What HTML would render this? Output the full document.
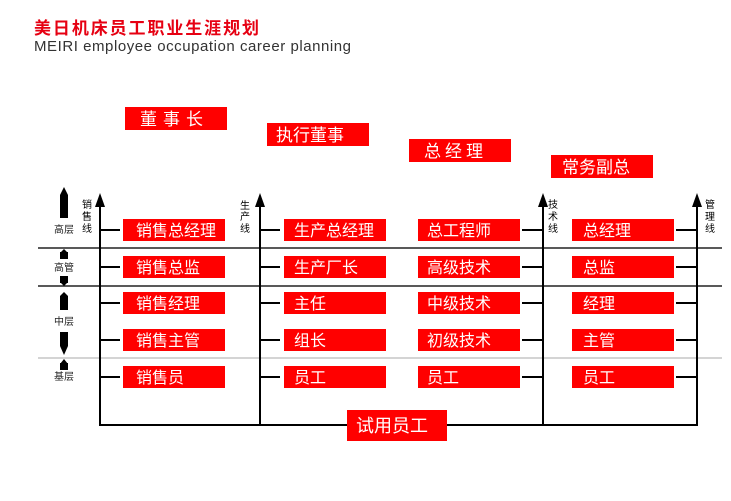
<!DOCTYPE html>
<html><head><meta charset="utf-8"><style>
html,body{margin:0;padding:0;background:#fff;}
svg{display:block;}
text{font-family:"Liberation Sans","Noto Sans CJK SC",sans-serif;}
</style></head><body>
<svg width="731" height="501" viewBox="0 0 731 501" xmlns="http://www.w3.org/2000/svg">
<text x="34" y="34" font-size="17" font-weight="bold" fill="#e60012" textLength="225" font-family="Noto Sans CJK SC, sans-serif">美日机床员工职业生涯规划</text>
<text x="34" y="51" font-size="15" fill="#333" textLength="317">MEIRI employee occupation career planning</text>

<g fill="#f00">
<rect x="125" y="107" width="102" height="23"/>
<rect x="267" y="123" width="102" height="23"/>
<rect x="409" y="139" width="102" height="23"/>
<rect x="551" y="155" width="102" height="23"/>
</g>
<g fill="#fff" font-size="17">
<text x="140" y="125" letter-spacing="6">董事长</text>
<text x="276" y="141">执行董事</text>
<text x="424" y="157" letter-spacing="4">总经理</text>
<text x="562" y="173">常务副总</text>
</g>

<!-- horizontal separators -->
<line x1="38" y1="248" x2="722" y2="248" stroke="#222" stroke-width="1.5"/>
<line x1="38" y1="286" x2="722" y2="286" stroke="#222" stroke-width="1.5"/>
<line x1="38" y1="358" x2="722" y2="358" stroke="#aaa" stroke-width="1"/>

<!-- vertical lines -->
<g stroke="#000" stroke-width="2">
<line x1="100" y1="200" x2="100" y2="426"/>
<line x1="260" y1="200" x2="260" y2="426"/>
<line x1="543" y1="200" x2="543" y2="426"/>
<line x1="697" y1="200" x2="697" y2="426"/>
<line x1="99" y1="425" x2="698" y2="425"/>
</g>
<g fill="#000">
<polygon points="100,193 95,207 105,207"/>
<polygon points="260,193 255,207 265,207"/>
<polygon points="543,193 538,207 548,207"/>
<polygon points="697,193 692,207 702,207"/>
</g>
<g font-size="10" fill="#000">
<text x="82" y="208">销</text><text x="82" y="220">售</text><text x="82" y="232">线</text>
<text x="240" y="209">生</text><text x="240" y="220">产</text><text x="240" y="232">线</text>
<text x="548" y="208">技</text><text x="548" y="220">术</text><text x="548" y="232">线</text>
<text x="705" y="208">管</text><text x="705" y="220">理</text><text x="705" y="232">线</text>
</g>

<!-- ticks -->
<g stroke="#000" stroke-width="2">
<line x1="100" y1="230" x2="120" y2="230"/><line x1="100" y1="267" x2="120" y2="267"/><line x1="100" y1="303" x2="120" y2="303"/><line x1="100" y1="340" x2="120" y2="340"/><line x1="100" y1="377" x2="120" y2="377"/>
<line x1="260" y1="230" x2="280" y2="230"/><line x1="260" y1="267" x2="280" y2="267"/><line x1="260" y1="303" x2="280" y2="303"/><line x1="260" y1="340" x2="280" y2="340"/><line x1="260" y1="377" x2="280" y2="377"/>
<line x1="522" y1="230" x2="543" y2="230"/><line x1="522" y1="267" x2="543" y2="267"/><line x1="522" y1="303" x2="543" y2="303"/><line x1="522" y1="340" x2="543" y2="340"/><line x1="522" y1="377" x2="543" y2="377"/>
<line x1="676" y1="230" x2="697" y2="230"/><line x1="676" y1="267" x2="697" y2="267"/><line x1="676" y1="303" x2="697" y2="303"/><line x1="676" y1="340" x2="697" y2="340"/><line x1="676" y1="377" x2="697" y2="377"/>
</g>

<!-- boxes -->
<g fill="#f00">
<rect x="123" y="219" width="102" height="22"/><rect x="123" y="256" width="102" height="22"/><rect x="123" y="292" width="102" height="22"/><rect x="123" y="329" width="102" height="22"/><rect x="123" y="366" width="102" height="22"/>
<rect x="284" y="219" width="102" height="22"/><rect x="284" y="256" width="102" height="22"/><rect x="284" y="292" width="102" height="22"/><rect x="284" y="329" width="102" height="22"/><rect x="284" y="366" width="102" height="22"/>
<rect x="418" y="219" width="102" height="22"/><rect x="418" y="256" width="102" height="22"/><rect x="418" y="292" width="102" height="22"/><rect x="418" y="329" width="102" height="22"/><rect x="418" y="366" width="102" height="22"/>
<rect x="572" y="219" width="102" height="22"/><rect x="572" y="256" width="102" height="22"/><rect x="572" y="292" width="102" height="22"/><rect x="572" y="329" width="102" height="22"/><rect x="572" y="366" width="102" height="22"/>
<rect x="347" y="410" width="100" height="31"/>
</g>
<g fill="#fff" font-size="16">
<text x="136" y="236">销售总经理</text><text x="136" y="273">销售总监</text><text x="136" y="309">销售经理</text><text x="136" y="346">销售主管</text><text x="136" y="383">销售员</text>
<text x="294" y="236">生产总经理</text><text x="294" y="273">生产厂长</text><text x="294" y="309">主任</text><text x="294" y="346">组长</text><text x="294" y="383">员工</text>
<text x="427" y="236">总工程师</text><text x="427" y="273">高级技术</text><text x="427" y="309">中级技术</text><text x="427" y="346">初级技术</text><text x="427" y="383">员工</text>
<text x="583" y="236">总经理</text><text x="583" y="273">总监</text><text x="583" y="309">经理</text><text x="583" y="346">主管</text><text x="583" y="383">员工</text>
<text x="356" y="432" font-size="18">试用员工</text>
</g>

<!-- level icons -->
<g fill="#000">
<polygon points="64,187 60,195 60,218 68,218 68,195"/>
<rect x="60" y="252" width="8" height="7"/><polygon points="64,249 60,253 68,253"/>
<rect x="60" y="276" width="8" height="7"/><polygon points="64,286 60,282 68,282"/>
<polygon points="64,292 60,296 60,310 68,310 68,296"/>
<polygon points="64,355 60,346 60,332 68,332 68,346"/>
<rect x="60" y="363" width="8" height="7"/><polygon points="64,359 60,364 68,364"/>
</g>
<g font-size="10" fill="#222">
<text x="54" y="233">高层</text>
<text x="54" y="271">高管</text>
<text x="54" y="325">中层</text>
<text x="54" y="380">基层</text>
</g>
</svg>
</body></html>
